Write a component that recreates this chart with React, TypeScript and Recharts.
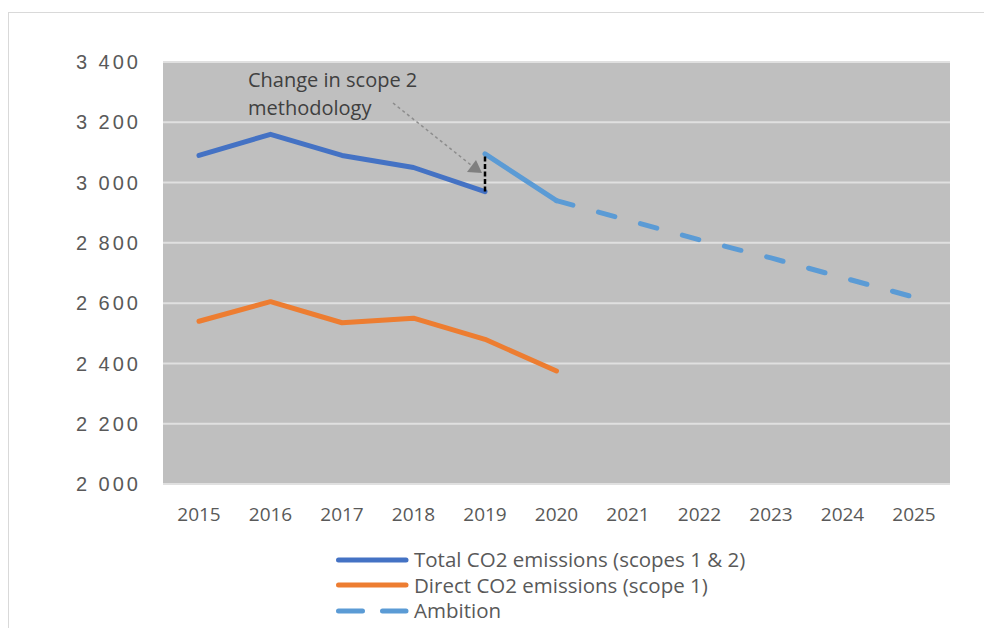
import React from "react";
import {
  LineChart,
  Line,
  XAxis,
  YAxis,
  CartesianGrid,
  Legend,
  ReferenceLine,
} from "recharts";

const years = ["2015", "2016", "2017", "2018", "2019", "2020", "2021", "2022", "2023", "2024", "2025"];
const totalEmissions = [3090, 3160, 3090, 3050, 2970, null, null, null, null, null, null];
const directEmissions = [2540, 2605, 2535, 2550, 2480, 2375, null, null, null, null, null];
const restatedTotal = [null, null, null, null, 3095, 2940, null, null, null, null, null];
const ambition = [null, null, null, null, null, 2940, 2875, 2810, 2750, 2685, 2620];
const yTicks = [2000, 2200, 2400, 2600, 2800, 3000, 3200, 3400];

const legendItems = [
  { label: "Total CO2 emissions (scopes 1 & 2)", color: "#4472c4", dash: "" },
  { label: "Direct CO2 emissions (scope 1)", color: "#ed7d31", dash: "" },
  { label: "Ambition", color: "#5b9bd5", dash: "24 20" },
];

const data = years.map((year, i) => ({
  year,
  total: totalEmissions[i],
  direct: directEmissions[i],
  restated: restatedTotal[i],
  ambition: ambition[i],
}));

// "3400" -> "3 400"
const fmt = (v: number) => {
  const s = String(v);
  return s.slice(0, s.length - 3) + " " + s.slice(-3);
};

function LegendBox() {
  return (
    <div style={{ fontFamily: "'Open Sans'", fontSize: 20.5, color: "#595959" }}>
      {legendItems.map((it) => (
        <div key={it.label} style={{ display: "flex", alignItems: "center", height: 25.5, lineHeight: "25px" }}>
          <svg width={78} height={10} style={{ flex: "none" }}>
            <line
              x1={2.5}
              x2={70}
              y1={5}
              y2={5}
              stroke={it.color}
              strokeWidth={5}
              strokeLinecap="round"
              strokeDasharray={it.dash || undefined}
            />
          </svg>
          <span style={{ whiteSpace: "nowrap" }}>{it.label}</span>
        </div>
      ))}
    </div>
  );
}

export default function App() {
  return (
    <div
      style={{
        position: "absolute",
        left: 8,
        top: 12,
        width: 975,
        height: 615,
        borderTop: "1px solid #d9d9d9",
        borderLeft: "1px solid #d9d9d9",
      }}
    >
      <LineChart width={975} height={615} data={data} margin={{ top: 49, right: 34, left: 0, bottom: 104 }}>
        <CartesianGrid vertical={false} fill="#bfbfbf" stroke="#e0e0e0" strokeWidth={2} />
        <XAxis
          dataKey="year"
          height={40}
          padding={{ left: 36, right: 36 }}
          axisLine={false}
          tickLine={false}
          tickMargin={18}
          tick={{ fill: "#595959", fontSize: 19, fontFamily: "'Open Sans'" }}
        />
        <YAxis
          width={154}
          domain={[2000, 3400]}
          ticks={yTicks}
          axisLine={false}
          tickLine={false}
          tickMargin={16}
          tickFormatter={fmt}
          tick={{ fill: "#595959", fontSize: 20, fontFamily: "'Liberation Sans'", letterSpacing: 3 }}
        />
        <Legend
          layout="horizontal"
          verticalAlign="middle"
          align="center"
          wrapperStyle={{ left: 327, top: 534, width: 500 }}
          content={() => <LegendBox />}
        />
        <Line dataKey="total" stroke="#4472c4" strokeWidth={5} dot={false} activeDot={false} strokeLinecap="round" strokeLinejoin="round" isAnimationActive={false} />
        <Line dataKey="direct" stroke="#ed7d31" strokeWidth={5} dot={false} activeDot={false} strokeLinecap="round" strokeLinejoin="round" isAnimationActive={false} />
        <Line dataKey="restated" stroke="#5b9bd5" strokeWidth={5} dot={false} activeDot={false} strokeLinecap="round" strokeLinejoin="round" legendType="none" isAnimationActive={false} />
        <Line dataKey="ambition" stroke="#5b9bd5" strokeWidth={5} strokeDasharray="17 26.5" dot={false} activeDot={false} strokeLinecap="round" isAnimationActive={false} />
        <ReferenceLine
          segment={[
            { x: "2019", y: 2970 },
            { x: "2019", y: 3095 },
          ]}
          stroke="#000"
          strokeWidth={2.5}
          strokeDasharray="5 2.5"
        />
      </LineChart>
      <svg
        width={975}
        height={615}
        style={{ position: "absolute", left: 0, top: 0, pointerEvents: "none" }}
      >
        {/* annotation, drawn in page coordinates shifted by the wrapper origin (9, 13) */}
        <g transform="translate(-9,-13)">
          <text x={248} y={87} fontFamily="'Open Sans'" fontSize={20} fill="#404040">
            Change in scope 2
          </text>
          <text x={248} y={115} fontFamily="'Open Sans'" fontSize={20} fill="#404040">
            methodology
          </text>
          <line x1={393} y1={103} x2={471} y2={165} stroke="#8c8c8c" strokeWidth={1.5} strokeDasharray="3 3" />
          <polygon points="467,172 476,160 482,173" fill="#7f7f7f" />
        </g>
      </svg>
    </div>
  );
}
